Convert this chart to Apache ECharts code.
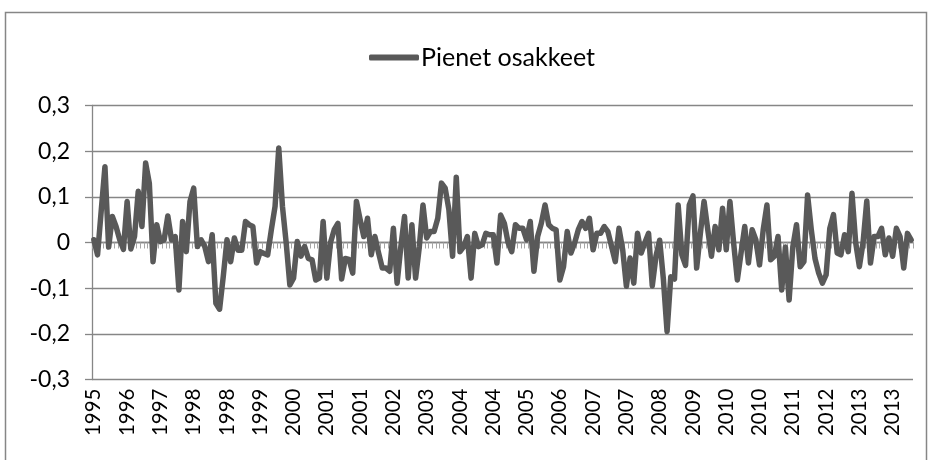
<!DOCTYPE html>
<html>
<head>
<meta charset="utf-8">
<script src="https://cdn.jsdelivr.net/npm/echarts@6/dist/echarts.min.js"></script>
<style>
html,body{margin:0;padding:0;background:#fff;}
#c{width:929px;height:460px;}
</style>
</head>
<body>
<div id="c"></div>
<script>
// Series name
const seriesName = 'Pienet osakkeet';
// First month of data
const startYear = 1995;
const startMonth = 11;
// Monthly values
const values = [
  0.006, -0.027, 0.07, 0.166, -0.01, 0.057, 0.035, 0.006, -0.015, 0.09,
  -0.014, 0.013, 0.112, 0.035, 0.174, 0.13, -0.042, 0.039, 0.002, 0.006,
  0.058, 0.006, 0.013, -0.104, 0.046, -0.02, 0.09, 0.119, -0.009, 0.006,
  -0.009, -0.042, 0.017, -0.133, -0.146, -0.074, 0.006, -0.042, 0.01, -0.017,
  -0.017, 0.046, 0.039, 0.035, -0.045, -0.02, -0.024, -0.027, 0.028, 0.079,
  0.207, 0.079, 0.0, -0.093, -0.078, 0.002, -0.03, -0.009, -0.035, -0.038,
  -0.082, -0.078, 0.046, -0.078, 0.0, 0.028, 0.042, -0.08, -0.035, -0.037,
  -0.067, 0.09, 0.05, 0.013, 0.053, -0.027, 0.013, -0.023, -0.056, -0.056,
  -0.063, 0.031, -0.089, -0.01, 0.057, -0.078, 0.039, -0.078, -0.01, 0.082,
  0.01, 0.024, 0.024, 0.053, 0.13, 0.119, 0.072, -0.03, 0.143, -0.02,
  -0.009, 0.013, -0.078, 0.02, -0.009, -0.005, 0.02, 0.017, 0.017, -0.045,
  0.06, 0.042, 0.0, -0.02, 0.039, 0.031, 0.031, 0.006, 0.046, -0.063,
  0.013, 0.042, 0.082, 0.039, 0.031, 0.028, -0.082, -0.053, 0.024, -0.023,
  -0.001, 0.028, 0.046, 0.031, 0.053, -0.016, 0.02, 0.02, 0.035, 0.024,
  -0.009, -0.042, 0.031, -0.016, -0.096, -0.034, -0.089, 0.02, -0.023, 0.0,
  0.02, -0.095, -0.03, 0.005, -0.08, -0.195, -0.075, -0.08, 0.082, -0.027,
  -0.05, 0.082, 0.102, -0.056, 0.02, 0.09, 0.028, -0.03, 0.035, -0.016,
  0.075, -0.016, 0.09, -0.001, -0.082, -0.023, 0.035, -0.045, 0.028, 0.006,
  -0.049, 0.028, 0.082, -0.038, -0.03, 0.013, -0.104, -0.01, -0.126, -0.01,
  0.039, -0.053, -0.042, 0.104, 0.028, -0.035, -0.067, -0.089, -0.071, 0.031,
  0.061, -0.023, -0.027, 0.017, -0.02, 0.108, 0.0, -0.053, 0.0, 0.091,
  -0.045, 0.013, 0.013, 0.031, -0.027, 0.01, -0.03, 0.031, 0.013, -0.056,
  0.02, 0.006
];
// Month categories (YYYY-MM)
const categories = values.map((_, i) => {
  const m = startMonth - 1 + i;
  return (startYear + Math.floor(m / 12)) + '-' + String(m % 12 + 1).padStart(2, '0');
});
// Y axis range
const yMin = -0.3, yMax = 0.3, yStep = 0.1;

const FONT = 'Lato';
const chart = echarts.init(document.getElementById('c'), null, {renderer: 'canvas'});
chart.setOption({
  animation: false,
  backgroundColor: '#ffffff',
  graphic: [{
    type: 'rect',
    shape: {x: 5.5, y: 12.5, width: 921, height: 470},
    style: {fill: 'none', stroke: '#868686', lineWidth: 1.5},
    silent: true, z: 0
  }],
  legend: {
    show: true,
    left: 364,
    top: 40,
    itemWidth: 50,
    itemHeight: 6,
    itemGap: 0,
    icon: 'roundRect',
    itemStyle: {color: '#595959'},
    textStyle: {fontFamily: FONT, fontSize: 25, color: '#000', padding: [0, 0, 0, -3]},
    data: [seriesName]
  },
  grid: {left: 92, right: 16, top: 105.5, bottom: 80.5, containLabel: false},
  xAxis: [{
    type: 'category',
    data: categories,
    boundaryGap: true,
    position: 'bottom',
    axisLine: {show: true, onZero: true, lineStyle: {color: '#868686', width: 1.3}},
    axisTick: {show: true, interval: 0, length: 6, lineStyle: {color: '#a6a6a6', width: 1}},
    axisLabel: {show: false},
    splitLine: {show: false}
  }, {
    type: 'category',
    data: categories,
    boundaryGap: true,
    position: 'bottom',
    axisLine: {show: false, onZero: false},
    axisTick: {show: false},
    axisLabel: {
      show: true, interval: 8, rotate: 90, margin: 9,
      fontFamily: FONT, fontSize: 20.5, color: '#000',
      formatter: v => v.slice(0, 4)
    },
    splitLine: {show: false}
  }],
  yAxis: {
    type: 'value',
    min: yMin, max: yMax, interval: yStep,
    axisLine: {show: true, lineStyle: {color: '#868686', width: 1.3}},
    axisTick: {show: true, length: 7, lineStyle: {color: '#868686', width: 1.3}},
    splitLine: {show: true, lineStyle: {color: '#868686', width: 1.3}},
    axisLabel: {
      margin: 22, fontFamily: FONT, fontSize: 23, color: '#000',
      formatter: v => Math.abs(v) < 1e-9 ? '0' : v.toFixed(1).replace('.', ',')
    }
  },
  series: [{
    name: seriesName,
    type: 'line',
    xAxisIndex: 0,
    data: values,
    symbol: 'none',
    smooth: false,
    lineStyle: {color: '#595959', width: 5.5, cap: 'round', join: 'round'},
    itemStyle: {color: '#595959'}
  }]
});
</script>
</body>
</html>
